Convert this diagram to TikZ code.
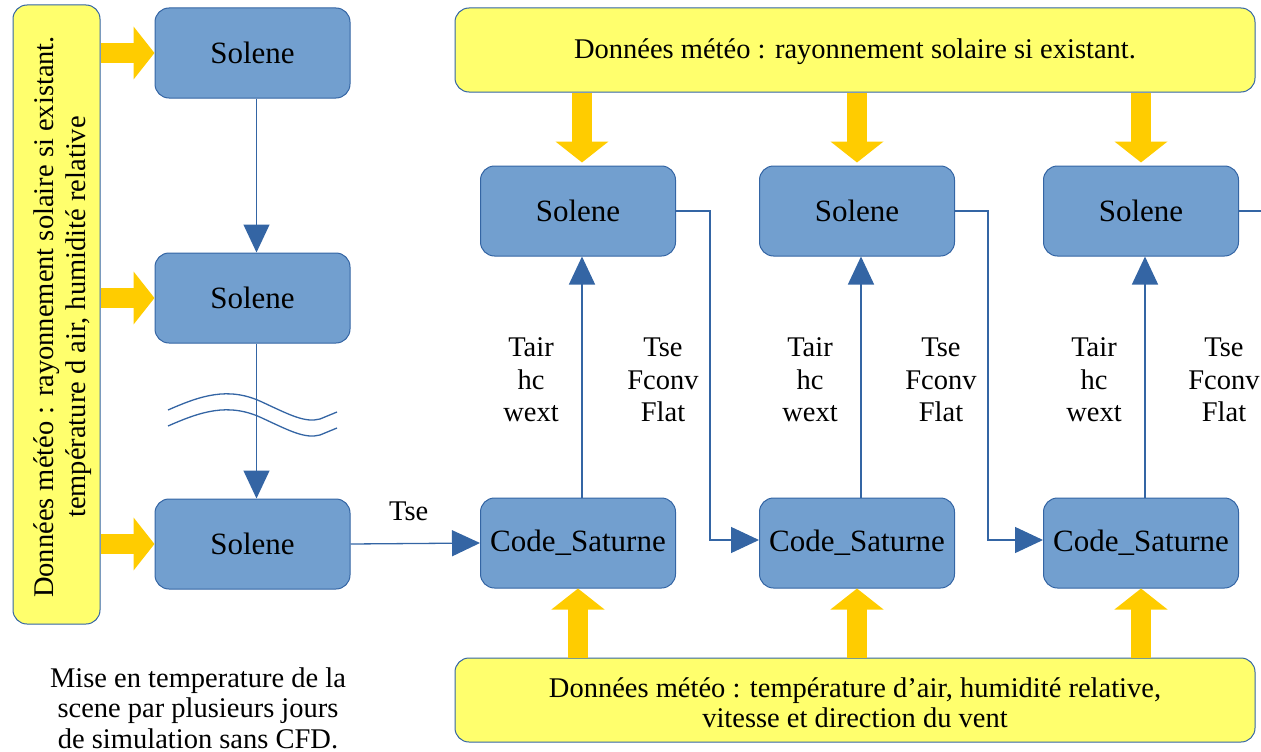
\documentclass[tikz,border=0pt]{standalone}
\usepackage{fontspec}
\setmainfont{Liberation Serif}
\usetikzlibrary{arrows.meta}
\definecolor{bfill}{HTML}{729FCF}
\definecolor{bline}{HTML}{3465A4}
\definecolor{yfill}{HTML}{FFFF6D}
\definecolor{yarr}{HTML}{FFCC00}
\begin{document}
\begin{tikzpicture}[x=1pt,y=-1pt,
 box/.style={draw=bline, fill=bfill, rounded corners=14pt, minimum width=195pt, minimum height=90pt, inner sep=0pt, font=\rmfamily\fontsize{31}{37}\selectfont, line width=1pt},
 ybox/.style={draw=bline, fill=yfill, rounded corners=14pt, inner sep=0pt, line width=1pt},
 yarrow/.style={draw=yarr, line width=20pt, -{Triangle[width=52pt,length=21pt]}},
 barrow/.style={draw=bline, line width=1.3pt, -{Triangle[width=26pt,length=28pt]}},
 bstroke/.style={draw=bline, line width=1.3pt},
 lab/.style={font=\rmfamily\fontsize{28.5}{32.5}\selectfont, align=center, inner sep=0pt},
]
\useasboundingbox (0,0) rectangle (1261,752);

% left part
\node[ybox, minimum width=87pt, minimum height=619pt] (L) at (56.5,314.5) {};
\node[lab, rotate=90, font=\rmfamily\fontsize{28.5}{32}\selectfont] (Lt) at (63,317) {Données météo : rayonnement solaire si existant.\\température d air, humidité relative};

\node[box] (s1) at (252.5,53) {Solene};
\node[box] (s2) at (252.5,298) {Solene};
\node[box] (s3) at (252.5,544) {Solene};

\draw[yarrow] (L.east |- s1.west) -- (s1.west);
\draw[yarrow] (L.east |- s2.west) -- (s2.west);
\draw[yarrow] (L.east |- s3.west) -- (s3.west);

\draw[barrow] ([xshift=4pt]s1.south) -- ([xshift=4pt]s2.north);
\draw[barrow] ([xshift=4pt]s2.south) -- ([xshift=4pt]s3.north);

\draw[bstroke] (168,410) .. controls (200,396) and (228,386) .. (262,402) .. controls (290,415) and (305,423) .. (320,419) -- (337,412);
\draw[bstroke] (168,426) .. controls (200,412) and (228,402) .. (262,418) .. controls (290,431) and (305,439) .. (320,435) -- (337,428);

\node[lab, font=\rmfamily\fontsize{28.5}{30.5}\selectfont] (note) at (198,708) {Mise en temperature de la\\scene par plusieurs jours\\de simulation sans CFD.};

% right part
\node[ybox, minimum width=800pt, minimum height=84pt] (T) at (855,50) {};
\node[lab] (Tt) at (855,52) {Données météo : rayonnement solaire si existant.};
\node[ybox, minimum width=800pt, minimum height=84pt] (B) at (855,700) {};
\node[lab, font=\rmfamily\fontsize{28.5}{30}\selectfont] (Bt) at (855,703) {Données météo : température d’air, humidité relative,\\vitesse et direction du vent};

\node[box] (t1) at (578,211) {Solene};
\node[box] (t2) at (857,211) {Solene};
\node[box] (t3) at (1141,211) {Solene};
\node[box] (c1) at (578,543) {Code\_Saturne};
\node[box] (c2) at (857,543) {Code\_Saturne};
\node[box] (c3) at (1141,543) {Code\_Saturne};

\draw[barrow] (s3.east) -- (c1.west) node[lab, pos=0.45, above=22pt] (tse) {Tse};

\foreach \i/\dx in {1/4,2/0,3/0}{
  \draw[yarrow] ([xshift=\dx pt]t\i.north |- T.south) -- ([xshift=\dx pt, yshift=3pt]t\i.north);
  \draw[yarrow] (c\i.south |- B.north) -- (c\i.south);
  \draw[barrow] ([xshift=4pt]c\i.north) -- ([xshift=4pt]t\i.south);
}

\node[lab] (l1a) at (531,380) {Tair\\hc\\wext};
\node[lab] (l1b) at (663,380) {Tse\\Fconv\\Flat};
\node[lab] (l2a) at (810,380) {Tair\\hc\\wext};
\node[lab] (l2b) at (941,380) {Tse\\Fconv\\Flat};
\node[lab] (l3a) at (1094,380) {Tair\\hc\\wext};
\node[lab] (l3b) at (1224,380) {Tse\\Fconv\\Flat};

\coordinate (e1) at (710,0);
\coordinate (e2) at (988,0);
\coordinate (e3) at (1261,211);
\draw[barrow] (t1.east) -- (e1 |- t1.east) |- ([yshift=3pt]c2.west);
\draw[barrow] (t2.east) -- (e2 |- t2.east) |- ([yshift=3pt]c3.west);
\draw[bstroke] (t3.east) -- (e3);
\end{tikzpicture}
\end{document}
